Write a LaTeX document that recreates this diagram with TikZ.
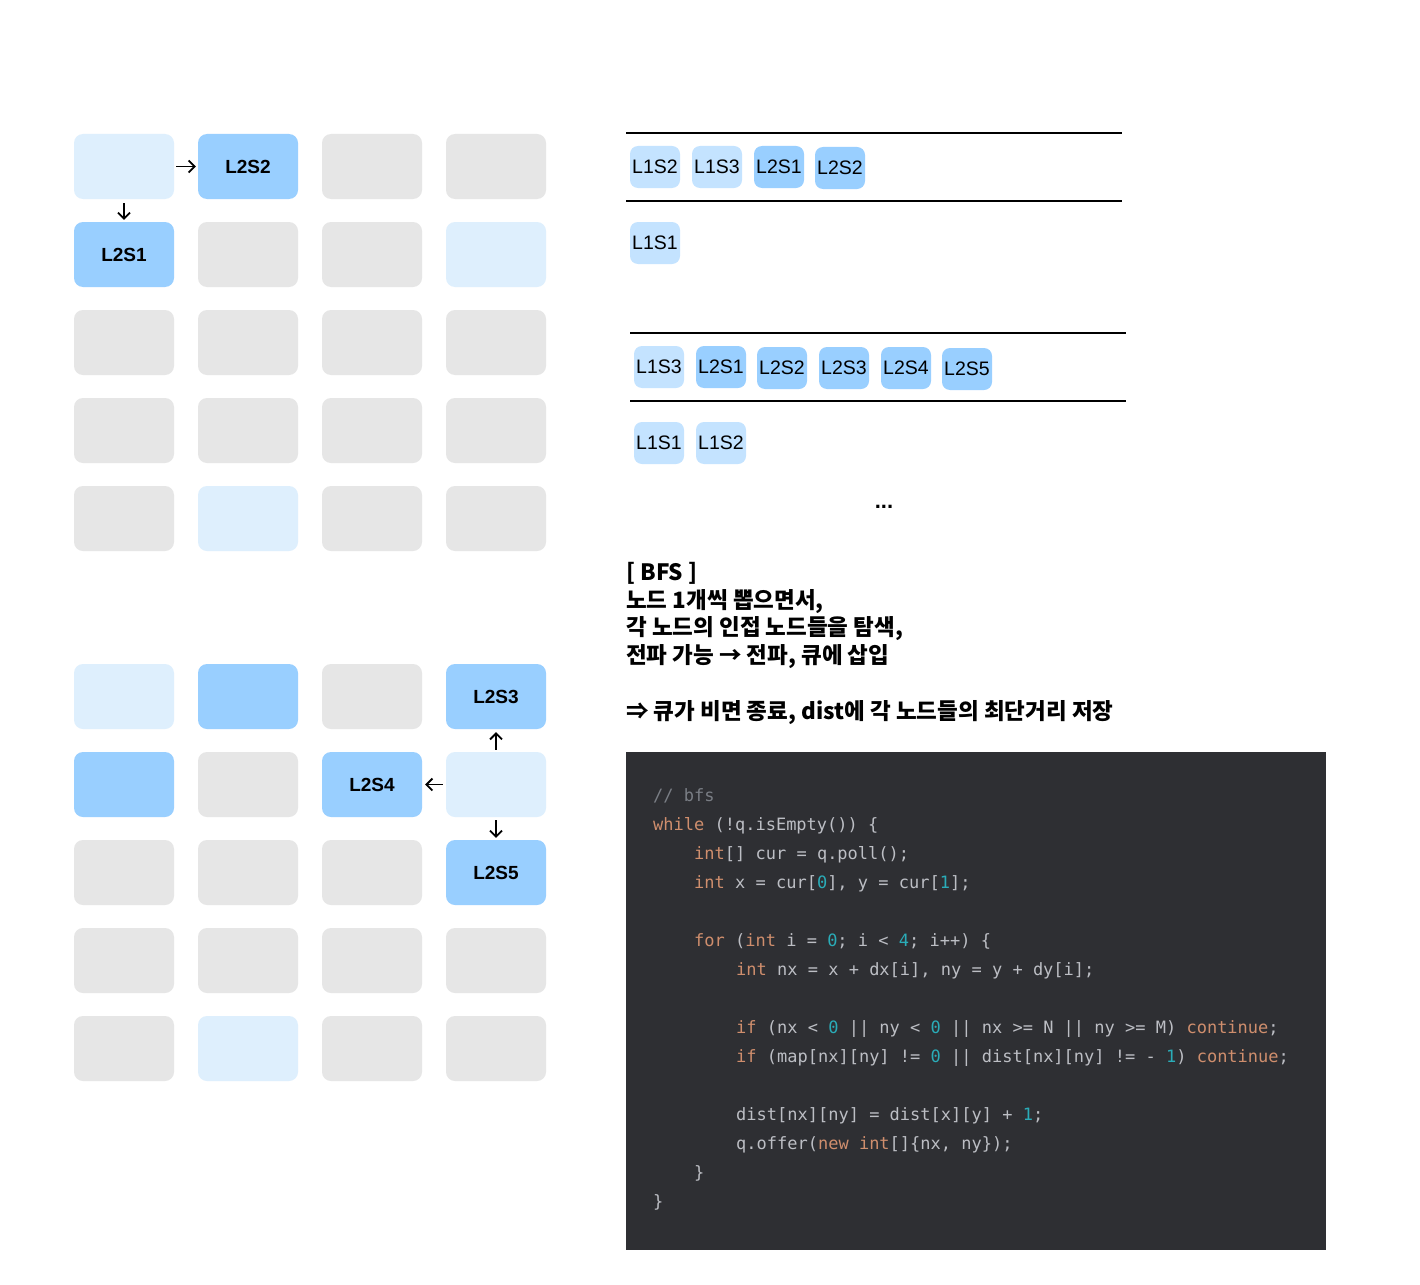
\documentclass[tikz,border=0pt]{standalone}
\usepackage{fontspec}
\setmainfont{Liberation Sans}
\setmonofont{DejaVu Sans Mono}
\newfontfamily\kr{Noto Sans CJK KR}
\usetikzlibrary{arrows.meta}
\definecolor{cgray}{HTML}{E6E6E6}
\definecolor{clight}{HTML}{DEEFFD}
\definecolor{cblue}{HTML}{99CFFF}
\definecolor{qlight}{HTML}{C4E3FF}
\definecolor{codebg}{HTML}{2E2F33}
\definecolor{ctxt}{HTML}{BCBEC4}
\definecolor{ckw}{HTML}{CF8E6D}
\definecolor{cnum}{HTML}{2AACB8}
\definecolor{ccom}{HTML}{7A7E85}
\newcommand{\kw}[1]{\textcolor{ckw}{#1}}
\newcommand{\nm}[1]{\textcolor{cnum}{#1}}
\tikzset{
  cell/.style={draw=none, rounded corners=9pt, minimum width=100pt, minimum height=65pt, inner sep=0pt,
    text depth=0pt, font=\fontsize{19}{20}\selectfont\bfseries},
  gcell/.style={cell, fill=cgray},
  lcell/.style={cell, fill=clight},
  bcell/.style={cell, fill=cblue},
  qbox/.style={draw=none, rounded corners=8pt, minimum width=50pt, minimum height=42pt, inner sep=0pt,
    text depth=0pt, font=\fontsize{19.5}{22}\selectfont},
  ql/.style={qbox, fill=qlight},
  qd/.style={qbox, fill=cblue},
  flow/.style={-{Straight Barb[length=6pt,width=12pt]}, line width=1.8pt, black},
  qline/.style={line width=2pt, black},
  krtxt/.style={anchor=base west, inner sep=0pt, font=\kr\fontsize{22.5}{24}\selectfont\bfseries},
  code/.style={anchor=base west, inner sep=0pt, text=ctxt, font=\ttfamily\fontsize{17}{20}\selectfont},
}
\begin{document}
\begin{tikzpicture}[x=1pt,y=-1pt]
\useasboundingbox[fill=white] (0,0) rectangle (1420,1284);

% ---------- top grid ----------
\node[lcell] (t11) at (124,166.5) {};
\node[bcell] (t12) at (248,166.5) {L2S2};
\node[gcell] (t13) at (372,166.5) {};
\node[gcell] (t14) at (496,166.5) {};
\node[bcell] (t21) at (124,254.5) {L2S1};
\node[gcell] (t22) at (248,254.5) {};
\node[gcell] (t23) at (372,254.5) {};
\node[lcell] (t24) at (496,254.5) {};
\node[gcell] (t31) at (124,342.5) {};
\node[gcell] (t32) at (248,342.5) {};
\node[gcell] (t33) at (372,342.5) {};
\node[gcell] (t34) at (496,342.5) {};
\node[gcell] (t41) at (124,430.5) {};
\node[gcell] (t42) at (248,430.5) {};
\node[gcell] (t43) at (372,430.5) {};
\node[gcell] (t44) at (496,430.5) {};
\node[gcell] (t51) at (124,518.5) {};
\node[lcell] (t52) at (248,518.5) {};
\node[gcell] (t53) at (372,518.5) {};
\node[gcell] (t54) at (496,518.5) {};
\draw[flow, shorten <=2pt, shorten >=2pt] (t11.east) -- (t12.west);
\draw[flow, shorten <=4pt, shorten >=2pt] (t11.south) -- (t21.north);

% ---------- bottom grid ----------
\node[lcell] (b11) at (124,696.5) {};
\node[bcell] (b12) at (248,696.5) {};
\node[gcell] (b13) at (372,696.5) {};
\node[bcell] (b14) at (496,696.5) {L2S3};
\node[bcell] (b21) at (124,784.5) {};
\node[gcell] (b22) at (248,784.5) {};
\node[bcell] (b23) at (372,784.5) {L2S4};
\node[lcell] (b24) at (496,784.5) {};
\node[gcell] (b31) at (124,872.5) {};
\node[gcell] (b32) at (248,872.5) {};
\node[gcell] (b33) at (372,872.5) {};
\node[bcell] (b34) at (496,872.5) {L2S5};
\node[gcell] (b41) at (124,960.5) {};
\node[gcell] (b42) at (248,960.5) {};
\node[gcell] (b43) at (372,960.5) {};
\node[gcell] (b44) at (496,960.5) {};
\node[gcell] (b51) at (124,1048.5) {};
\node[lcell] (b52) at (248,1048.5) {};
\node[gcell] (b53) at (372,1048.5) {};
\node[gcell] (b54) at (496,1048.5) {};
\draw[flow, shorten <=2pt, shorten >=3pt] (b24.north) -- (b14.south);
\draw[flow, shorten <=3pt, shorten >=3pt] (b24.west) -- (b23.east);
\draw[flow, shorten <=3pt, shorten >=2pt] (b24.south) -- (b34.north);

% ---------- queue 1 ----------
\coordinate (l1a) at (626,133); \coordinate (l1b) at (1122,133);
\coordinate (l2a) at (626,201); \coordinate (l2b) at (1122,201);
\draw[qline] (l1a) -- (l1b);
\draw[qline] (l2a) -- (l2b);
\node[ql] (qa1) at (655,167) {L1S2};
\node[ql] (qa2) at (717,167) {L1S3};
\node[qd] (qa3) at (779,167) {L2S1};
\node[qd] (qa4) at (840,168) {L2S2};
\node[ql] (va1) at (655,243) {L1S1};

% ---------- queue 2 ----------
\coordinate (l3a) at (630,333); \coordinate (l3b) at (1126,333);
\coordinate (l4a) at (630,401); \coordinate (l4b) at (1126,401);
\draw[qline] (l3a) -- (l3b);
\draw[qline] (l4a) -- (l4b);
\node[ql] (qb1) at (659,367) {L1S3};
\node[qd] (qb2) at (721,367) {L2S1};
\node[qd] (qb3) at (782,368) {L2S2};
\node[qd] (qb4) at (844,368) {L2S3};
\node[qd] (qb5) at (906,368) {L2S4};
\node[qd] (qb6) at (967,369) {L2S5};
\node[ql] (vb1) at (659,443) {L1S1};
\node[ql] (vb2) at (721,443) {L1S2};
\node[font=\fontsize{22}{24}\selectfont\bfseries, inner sep=0pt, text depth=0pt] (dots) at (884,507) {...};

% ---------- explanation ----------
\node[krtxt] (e1) at (626,580) {[ BFS ]};
\node[krtxt] (e2) at (626,608) {노드 1개씩 뽑으면서,};
\node[krtxt] (e3) at (626,635) {각 노드의 인접 노드들을 탐색,};
\node[krtxt] (e4) at (626,663) {전파 가능 → 전파, 큐에 삽입};
\node[krtxt] (e5) at (626,719) {⇒ 큐가 비면 종료, dist에 각 노드들의 최단거리 저장};

% ---------- code ----------
\node[fill=codebg, draw=none, minimum width=700pt, minimum height=498pt, inner sep=0pt, anchor=north west] (codebox) at (626,752) {};
\node[code, text=ccom] (c1) at (653,801) {// bfs};
\node[code] (c2) at (653,830) {\kw{while} (!q.isEmpty()) \{};
\node[code] (c3) at (694,859) {\kw{int}[] cur = q.poll();};
\node[code] (c4) at (694,888) {\kw{int} x = cur[\nm{0}], y = cur[\nm{1}];};
\node[code] (c5) at (694,946) {\kw{for} (\kw{int} i = \nm{0}; i < \nm{4}; i++) \{};
\node[code] (c6) at (736,975) {\kw{int} nx = x + dx[i], ny = y + dy[i];};
\node[code] (c7) at (736,1033) {\kw{if} (nx < \nm{0} || ny < \nm{0} || nx >= N || ny >= M) \kw{continue};};
\node[code] (c8) at (736,1062) {\kw{if} (map[nx][ny] != \nm{0} || dist[nx][ny] != - \nm{1}) \kw{continue};};
\node[code] (c9) at (736,1120) {dist[nx][ny] = dist[x][y] + \nm{1};};
\node[code] (c10) at (736,1149) {q.offer(\kw{new} \kw{int}[]\{nx, ny\});};
\node[code] (c11) at (694,1178) {\}};
\node[code] (c12) at (653,1207) {\}};
\end{tikzpicture}
\end{document}
